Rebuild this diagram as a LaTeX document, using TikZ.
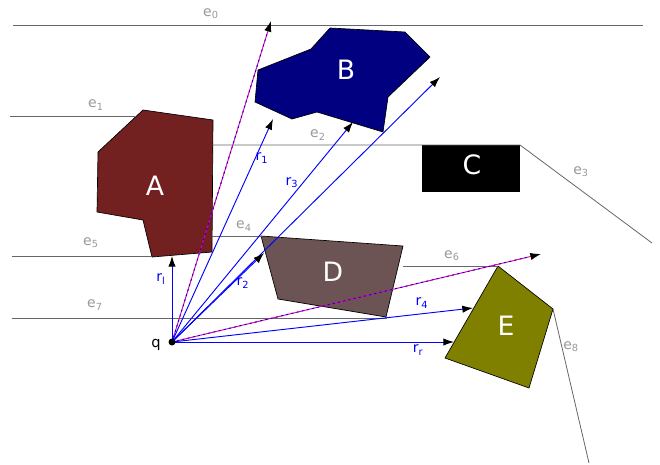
\documentclass[tikz,border=0pt]{standalone}
\usepackage{fontspec}
\setmainfont{DejaVu Sans}
\usetikzlibrary{arrows.meta, calc}

\newcommand{\sub}[2]{#1\textsubscript{#2}}

\begin{document}
\begin{tikzpicture}[x=0.75pt, y=-0.75pt,
    edge/.style={draw=black!60, line width=0.6pt},
    elabel/.style={text=black!40, font=\fontsize{10.5}{12}\selectfont, inner sep=1pt},
    rlabel/.style={text=blue, font=\fontsize{10.5}{12}\selectfont, inner sep=1pt},
    obst/.style={draw=black, line width=0.5pt},
    letter/.style={text=white, font=\fontsize{20}{24}\selectfont},
    ray/.style={draw=blue, line width=0.7pt, -{Latex[length=8pt, width=5.5pt, color=black]}},
    pinkray/.style={draw=magenta, line width=0.7pt, -{Latex[length=8pt, width=5.5pt, color=black]}},
    bluedash/.style={draw=blue, line width=0.7pt, dash pattern=on 1.5pt off 2.5pt}
]
    \useasboundingbox (0,0) rectangle (660,464);

    % obstacles
    \filldraw[obst, fill={rgb,255:red,114;green,32;blue,32}]
        (143,110) -- (213,120) -- (212,252) -- (152,257) -- (143,220) -- (97,212) -- (98,152) -- cycle;
    \filldraw[obst, fill={rgb,255:red,0;green,0;blue,128}]
        (258,70) -- (311,49) -- (330,28) -- (405,32) -- (430,57) -- (388,97) -- (383,132) -- (317,112) -- (292,119) -- (255,102) -- cycle;
    \fill[fill=black] (422,145) rectangle (520,192);
    \filldraw[obst, fill={rgb,255:red,108;green,84;blue,84}]
        (261,236) -- (403,246) -- (386,317) -- (278,299) -- cycle;
    \filldraw[obst, fill={rgb,255:red,128;green,128;blue,0}]
        (498,266) -- (553,309) -- (529,388) -- (445,358) -- cycle;

    \node[letter] (A) at (155,186) {A};
    \node[letter] (B) at (346,70) {B};
    \node[letter] (C) at (472,165) {C};
    \node[letter] (D) at (333,272) {D};
    \node[letter] (E) at (506,326) {E};

    % edges
    \draw[edge] (13,25) -- (643,25);
    \draw[edge] (10,116) -- (135,116);
    \draw[edge] (212,145) -- (520,145) -- (652,243);
    \draw[edge] (212,236) -- (262,236);
    \draw[edge] (12,256) -- (152,256);
    \draw[edge] (403,266) -- (498,266);
    \draw[edge] (12,318) -- (387,318);
    \draw[edge] (553,309) -- (589,463);

    \node[elabel] (e0) at (211,14) {\sub{e}{0}};
    \node[elabel] (e1) at (96,105) {\sub{e}{1}};
    \node[elabel] (e2) at (318,135) {\sub{e}{2}};
    \node[elabel] (e3) at (581,172) {\sub{e}{3}};
    \node[elabel] (e4) at (244,226) {\sub{e}{4}};
    \node[elabel] (e5) at (91,243) {\sub{e}{5}};
    \node[elabel] (e6) at (452,256) {\sub{e}{6}};
    \node[elabel] (e7) at (95,305) {\sub{e}{7}};
    \node[elabel] (e8) at (571,347) {\sub{e}{8}};

    % rays from q
    \coordinate (q) at (172,342);
    \coordinate (tl) at (172,256);
    \coordinate (t0) at (271,21);
    \coordinate (t1) at (273,119);
    \coordinate (t3) at (353,122);
    \coordinate (tb) at (440,77);
    \coordinate (t2) at (264,253);
    \coordinate (t6) at (541,254);
    \coordinate (t4) at (473,308);
    \coordinate (tr) at (454,342);

    \draw[pinkray] (q) -- (t0);
    \draw[bluedash] (q) -- ($(q)!0.96!(t0)$);
    \draw[pinkray] (q) -- (t6);
    \draw[bluedash] (q) -- ($(q)!0.97!(t6)$);
    \draw[ray] (q) -- (tl);
    \draw[ray] (q) -- (t1);
    \draw[ray] (q) -- (t3);
    \draw[ray] (q) -- (tb);
    \draw[ray] (q) -- (t2);
    \draw[ray] (q) -- (t4);
    \draw[ray] (q) -- (tr);

    \node[rlabel] (rl) at (161,279) {\sub{r}{l}};
    \node[rlabel] (r1) at (262,158) {\sub{r}{1}};
    \node[rlabel] (r3) at (292,183) {\sub{r}{3}};
    \node[rlabel] (r2) at (243,283) {\sub{r}{2}};
    \node[rlabel] (r4) at (422,303) {\sub{r}{4}};
    \node[rlabel] (rr) at (418,350) {\sub{r}{r}};

    \fill (q) circle (3.5);
    \node[font=\fontsize{11}{13}\selectfont, inner sep=1pt] (qlab) at (156,345) {q};
\end{tikzpicture}
\end{document}
